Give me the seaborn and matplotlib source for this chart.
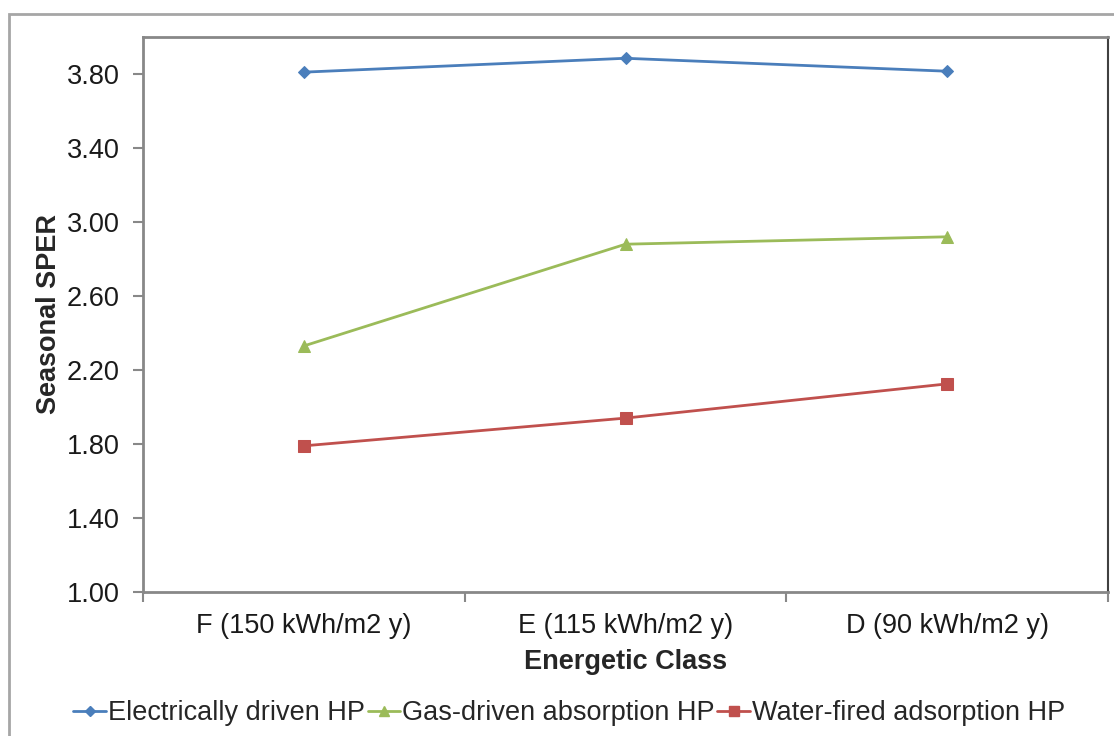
import pandas as pd
import numpy as np
import matplotlib.pyplot as plt
import seaborn as sns
from matplotlib.patches import Rectangle
from matplotlib.lines import Line2D

## Data
classes = ['F (150 kWh/m2 y)', 'E (115 kWh/m2 y)', 'D (90 kWh/m2 y)']
electric = [3.81, 3.885, 3.815]
gas = [2.33, 2.88, 2.92]
water = [1.79, 1.94, 2.125]
series_names = ['Electrically driven HP', 'Gas-driven absorption HP', 'Water-fired adsorption HP']
yticks = [1.00, 1.40, 1.80, 2.20, 2.60, 3.00, 3.40, 3.80]

df = pd.DataFrame({
    'Energetic Class': classes * 3,
    'Seasonal SPER': electric + gas + water,
    'Series': [series_names[0]] * 3 + [series_names[1]] * 3 + [series_names[2]] * 3,
})

sns.set_style('white')
plt.rcParams['font.family'] = ['Liberation Sans', 'DejaVu Sans']

colors = ['#4A7EBB', '#9BBB59', '#C0504D']
markers = ['D', '^', 's']
msizes = [6, 8, 8]
fs = 19.5

fig = plt.figure(figsize=(11.14, 7.36), dpi=100)
ax = fig.add_axes([143/1114, 1 - 592/736, (1108 - 143)/1114, (592 - 37)/736])

##Plotting
for name, c, m, ms in zip(series_names, colors, markers, msizes):
    sub = df[df['Series'] == name]
    sns.lineplot(data=sub, x='Energetic Class', y='Seasonal SPER', color=c, marker=m,
                 markersize=ms, markeredgecolor=c, linewidth=2, sort=False, ax=ax, label=name)

ax.set_ylim(1.0, 4.0)
ax.set_xlim(-0.5, 2.5)
ax.set_yticks(yticks)
ax.set_yticklabels([f'{v:.2f}' for v in yticks], fontsize=fs)
ax.set_xticks(range(len(classes)))
ax.set_xticklabels(classes, fontsize=fs)
ax.set_xticks([-0.5, 0.5, 1.5, 2.5], minor=True)
ax.tick_params(axis='x', which='major', bottom=True, length=0, pad=15, colors='#1a1a1a')
ax.tick_params(axis='x', which='minor', bottom=True, length=7, width=1.5, color='#888888')
ax.tick_params(axis='y', left=True, length=7, width=1.5, pad=10, colors='#1a1a1a')
ax.tick_params(axis='y', color='#888888')

ax.set_xlabel('Energetic Class', fontsize=fs, fontweight='bold', labelpad=7)
ax.set_ylabel('Seasonal SPER', fontsize=fs, fontweight='bold', labelpad=3)

for s in ['left', 'bottom', 'top']:
    ax.spines[s].set_color('#888888')
    ax.spines[s].set_linewidth(2)
ax.spines['right'].set_color('#404040')
ax.spines['right'].set_linewidth(1.5)

ax.get_legend().remove()
handles = [Line2D([], [], color=c, marker=m, markersize=ms - 1, markeredgecolor=c, linewidth=2)
           for c, m, ms in zip(colors, markers, msizes)]
fig.legend(handles, series_names, loc='center', bbox_to_anchor=(0.511, 0.031), ncol=3,
           frameon=False, fontsize=fs, handlelength=1.2, handletextpad=0.08, columnspacing=0.1)

# outer chart border
fig.patches.append(Rectangle((9/1114, -0.2), 1.2, 1 - 14/736 + 0.2, transform=fig.transFigure,
                             fill=False, edgecolor='#A6A6A6', linewidth=2))

plt.savefig('out.png', dpi=100)
